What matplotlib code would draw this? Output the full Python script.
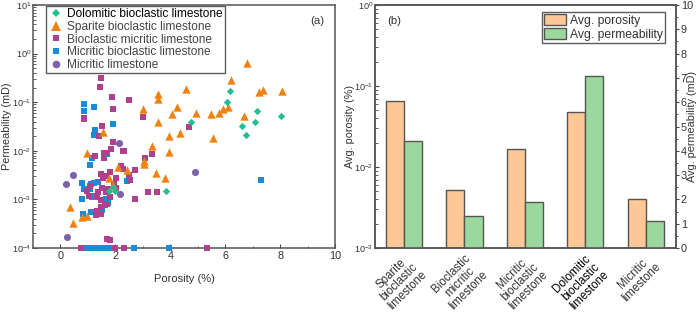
import numpy as np
import matplotlib.pyplot as plt
from matplotlib.ticker import MultipleLocator, LogLocator, NullFormatter, FuncFormatter

plt.rcParams['font.family'] = ['Liberation Sans', 'DejaVu Sans']
plt.rcParams['mathtext.fontset'] = 'custom'
plt.rcParams['mathtext.rm'] = 'Liberation Sans'
plt.rcParams['mathtext.it'] = 'Liberation Sans'

# ---- panel (a) data: porosity (%) vs permeability (mD)
dolo_x = [6.18, 6.05, 7.17, 8.02, 4.74, 6.63, 7.09, 6.76, 1.75, 1.9, 2.0, 3.83]
dolo_k = [0.17, 0.10, 0.066, 0.052, 0.040, 0.032, 0.040, 0.021, 0.0015, 0.0018, 0.0015, 0.0015]

spar_x = [6.78, 6.21, 4.59, 7.36, 7.24, 8.07, 3.56, 3.57, 2.99, 4.24, 5.93, 6.09, 5.77,
          5.50, 4.93, 4.06, 6.67, 3.57, 4.34, 3.95, 5.55, 1.55, 3.33, 0.96, 3.95, 3.04,
          3.05, 2.08, 2.41, 3.47, 1.77, 3.79, 1.90, 0.34, 0.78, 0.96, 0.44]
spar_k = [0.65, 0.28, 0.19, 0.18, 0.16, 0.17, 0.148, 0.117, 0.073, 0.081, 0.074, 0.081, 0.060,
          0.057, 0.059, 0.057, 0.052, 0.040, 0.023, 0.020, 0.018, 0.024, 0.0126, 0.0089, 0.0093, 0.0063,
          0.0053, 0.0047, 0.0040, 0.0035, 0.0028, 0.0027, 0.0020, 0.0007, 0.00043, 0.00045, 0.00033]

biom_x = [1.49, 1.43, 1.86, 2.49, 1.90, 3.00, 0.84, 1.51, 4.67, 1.42, 1.91, 1.84, 2.27, 2.33,
          1.57, 1.70, 1.26, 3.32, 3.07, 1.59, 1.47, 1.82, 2.19, 2.28, 2.71, 2.51, 2.54, 2.02,
          1.65, 1.55, 1.94, 2.02, 1.09, 0.97, 1.52, 1.36, 1.65, 1.72, 1.04, 1.32, 1.82, 1.49,
          2.71, 3.19, 3.50, 1.70, 1.63, 1.49, 1.32, 1.31, 1.46, 1.68, 1.82, 0.74, 2.0, 2.3, 5.35]
biom_k = [0.31, 0.21, 0.13, 0.11, 0.074, 0.049, 0.047, 0.033, 0.031, 0.020, 0.015, 0.011, 0.010, 0.010,
          0.0088, 0.0088, 0.0079, 0.0087, 0.0070, 0.0070, 0.0034, 0.0036, 0.0049, 0.0043, 0.0040, 0.0032,
          0.0025, 0.0027, 0.0030, 0.0027, 0.0021, 0.0017, 0.0019, 0.0015, 0.0017, 0.0014, 0.0014, 0.0016,
          0.00115, 0.00118, 0.0011, 0.00098, 0.0010, 0.0014, 0.0014, 0.00080, 0.00075, 0.00070, 0.00059,
          0.00047, 0.00051, 0.000155, 0.000144, 0.0001, 0.0001, 0.0001, 0.0001]

micb_x = [0.86, 0.84, 1.23, 0.86, 1.92, 1.27, 1.23, 1.70, 1.14, 1.07, 0.80, 0.85, 1.13, 1.23,
          1.36, 2.43, 1.07, 1.23, 1.32, 1.14, 1.65, 0.79, 1.74, 1.51, 1.35, 1.10, 0.82, 7.30,
          0.75, 0.85, 0.95, 1.05, 1.15, 1.25, 1.35, 1.45, 1.55, 1.65, 1.75, 1.85, 2.0, 2.67, 3.95]
micb_k = [0.091, 0.067, 0.079, 0.046, 0.035, 0.027, 0.021, 0.0085, 0.0072, 0.0052, 0.0022, 0.0016,
          0.0021, 0.0022, 0.0023, 0.0024, 0.0016, 0.0012, 0.0011, 0.0011, 0.0010, 0.0010, 0.00083,
          0.0006, 0.00056, 0.00056, 0.0005, 0.0025,
          0.0001, 0.0001, 0.0001, 0.0001, 0.0001, 0.0001, 0.0001, 0.0001, 0.0001, 0.0001, 0.0001,
          0.0001, 0.0001, 0.0001, 0.0001]

micl_x = [2.12, 0.46, 0.21, 2.16, 0.25, 4.90]
micl_k = [0.0146, 0.0032, 0.0021, 0.0013, 0.00017, 0.0037]

# ---- panel (b) data
rock_types = ['Sparite\nbioclastic\nlimestone', 'Bioclastic\nmicritic\nlimestone',
              'Micritic\nbioclastic\nlimestone', 'Dolomitic\nbioclastic\nlimestone',
              'Micritic\nlimestone']
avg_porosity = [0.0658, 0.00521, 0.0166, 0.0479, 0.00398]
avg_perm = [4.42, 1.33, 1.88, 7.08, 1.12]

fig = plt.figure(figsize=(7, 3.13), dpi=100)
edge = '#555555'
tcol = '#333333'
fs_log = 6.6
fs_num = 7.8
fs_lab = 7.8


def pow10(v, pos):
    e = int(round(np.log10(v)))
    if e < 0:
        return r'10$^{\mathregular{-%d}}$' % (-e)
    return r'10$^{\mathregular{%d}}$' % e


# ---------------- panel (a)
ax = fig.add_axes([33/700, 65/313, 302/700, 243/313])
ax.scatter(micl_x, micl_k, marker='o', s=26, color='#7b62aa', lw=0, clip_on=False, zorder=3)
ax.scatter(micb_x, micb_k, marker='s', s=16, color='#1a8bd6', lw=0, clip_on=False, zorder=3)
ax.scatter(biom_x, biom_k, marker='s', s=16, color='#b0408e', lw=0, clip_on=False, zorder=3)
ax.scatter(spar_x, spar_k, marker='^', s=36, color='#f0820f', lw=0, clip_on=False, zorder=3)
ax.scatter(dolo_x, dolo_k, marker='D', s=14, color='#1fbf8f', lw=0, clip_on=False, zorder=4)

h = [plt.Line2D([], [], ls='', marker='D', ms=4, color='#1fbf8f', mew=0),
     plt.Line2D([], [], ls='', marker='^', ms=6.5, color='#f0820f', mew=0),
     plt.Line2D([], [], ls='', marker='s', ms=4.5, color='#b0408e', mew=0),
     plt.Line2D([], [], ls='', marker='s', ms=4.5, color='#1a8bd6', mew=0),
     plt.Line2D([], [], ls='', marker='o', ms=5.5, color='#7b62aa', mew=0)]
labs = ['Dolomitic bioclastic limestone', 'Sparite bioclastic limestone',
        'Bioclastic micritic limestone', 'Micritic bioclastic limestone', 'Micritic limestone']
leg = ax.legend(h, labs, loc='upper left', bbox_to_anchor=(13/302, 1 - 1/243), fontsize=8.6,
                frameon=True, fancybox=False, edgecolor='#333333', borderpad=0.2,
                labelspacing=0.05, handletextpad=0.35, handlelength=1.2, borderaxespad=0)
leg.get_frame().set_linewidth(1.0)
for i, t in enumerate(leg.get_texts()):
    t.set_color('black' if i == 0 else '#444444')

ax.set_yscale('log')
ax.set_xlim(-1, 10)
ax.set_ylim(1e-4, 10)
ax.xaxis.set_major_locator(MultipleLocator(2))
ax.xaxis.set_minor_locator(MultipleLocator(1))
ax.yaxis.set_major_locator(LogLocator(base=10, numticks=10))
ax.yaxis.set_major_formatter(FuncFormatter(pow10))
ax.yaxis.set_minor_locator(LogLocator(base=10, subs=np.arange(2, 10), numticks=20))
ax.yaxis.set_minor_formatter(NullFormatter())
ax.tick_params(which='both', direction='in', colors='#444444', labelsize=fs_log,
               labelcolor=tcol, pad=1)
ax.tick_params(axis='x', labelsize=fs_num, pad=2)
ax.tick_params(which='major', length=3)
ax.tick_params(which='minor', length=1.8)
for s in ax.spines.values():
    s.set_color(edge)
    s.set_linewidth(1.1)
ax.set_xlabel('Porosity (%)', fontsize=fs_lab + 0.2, color=tcol)
ax.xaxis.set_label_coords(0.5, -0.105)
fig.text(7/700, 1 - 126/313, 'Permeability (mD)', rotation=90, ha='center', va='center',
         fontsize=fs_lab, color=tcol)
ax.text(0.965, 0.955, '(a)', transform=ax.transAxes, ha='right', va='top', fontsize=8.2,
        color=tcol)

# ---------------- panel (b)
bx = fig.add_axes([375/700, 65/313, 301/700, 243/313])
bx2 = bx.twinx()
pos = np.arange(len(rock_types))
w = 0.30
bx.bar(pos - w/2, np.array(avg_porosity) - 1e-3, w, bottom=1e-3, color='#fdc896',
       edgecolor='#555555', lw=1.0, label='Avg. porosity', zorder=2)
bx2.bar(pos + w/2, avg_perm, w, color='#9ad89d', edgecolor='#555555', lw=1.0,
        label='Avg. permeability', zorder=2)
bx.set_yscale('log')
bx.set_ylim(1e-3, 1)
bx.set_xlim(-0.48, 4.5)
bx2.set_ylim(0, 10)
bx2.yaxis.set_major_locator(MultipleLocator(1))
bx2.yaxis.set_minor_locator(MultipleLocator(0.5))
bx.yaxis.set_major_locator(LogLocator(base=10, numticks=10))
bx.yaxis.set_major_formatter(FuncFormatter(pow10))
bx.yaxis.set_minor_locator(LogLocator(base=10, subs=np.arange(2, 10), numticks=20))
bx.yaxis.set_minor_formatter(NullFormatter())
bx.set_xticks(pos)
bx.set_xticklabels(rock_types, rotation=45, ha='right', rotation_mode='anchor',
                   ma='center', fontsize=8.3, color=tcol, linespacing=1.0)
bx.get_xticklabels()[3].set_color('black')
bx.tick_params(axis='x', length=0, pad=3)
bx.tick_params(axis='y', which='both', direction='in', colors='#444444', labelsize=fs_log,
               labelcolor=tcol, pad=1)
bx.tick_params(axis='y', which='major', length=3)
bx.tick_params(axis='y', which='minor', length=1.8)
bx2.tick_params(which='both', direction='out', colors='#444444', labelsize=fs_num,
                labelcolor=tcol, pad=1)
bx2.tick_params(which='major', length=2.5)
bx2.tick_params(which='minor', length=1.5)
for a in (bx, bx2):
    for s in a.spines.values():
        s.set_color(edge)
        s.set_linewidth(1.1)
fig.text(350/700, 1 - 126/313, 'Avg. porosity (%)', rotation=90, ha='center', va='center',
         fontsize=fs_lab, color=tcol)
fig.text(692/700, 1 - 126/313, 'Avg. permeability (mD)', rotation=90, ha='center',
         va='center', fontsize=fs_lab, color=tcol)
bx.text(0.04, 0.955, '(b)', transform=bx.transAxes, ha='left', va='top', fontsize=8.2,
        color=tcol)

hb = [plt.Rectangle((0, 0), 1, 1, fc='#fdc896', ec='#555555', lw=1.0),
      plt.Rectangle((0, 0), 1, 1, fc='#9ad89d', ec='#555555', lw=1.0)]
leg2 = bx2.legend(hb, ['Avg. porosity', 'Avg. permeability'], loc='upper right',
                  bbox_to_anchor=(1 - 11/301, 1 - 7/243), fontsize=8.7,
                  frameon=True, fancybox=False, edgecolor='#333333', borderpad=0.2,
                  labelspacing=0.1, handletextpad=0.3, handlelength=1.8, handleheight=1.0,
                  borderaxespad=0)
leg2.get_frame().set_linewidth(1.0)
for t in leg2.get_texts():
    t.set_color(tcol)

fig.savefig('out.png', dpi=100)
